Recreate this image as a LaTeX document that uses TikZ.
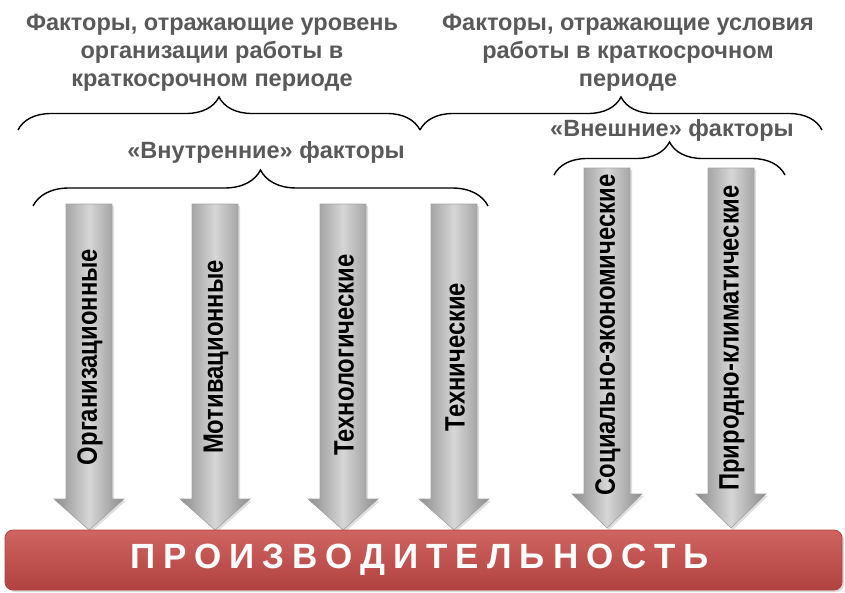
\documentclass[tikz,border=0pt]{standalone}
\usepackage{fontspec}
\setmainfont{Liberation Sans}
\newfontfamily\arrowfont[FakeStretch=0.85]{Liberation Sans}
\newfontfamily\barfont[LetterSpace=23]{Liberation Sans}
\usetikzlibrary{decorations.pathreplacing,shadows}
\definecolor{headgray}{HTML}{595959}
\definecolor{arrowdark}{HTML}{8C8C8C}
\definecolor{arrowlight}{HTML}{D6D6D6}
\definecolor{barlight}{HTML}{D06461}
\definecolor{bardark}{HTML}{B0423F}
\tikzset{header/.style={align=center, text=headgray, font=\bfseries\fontsize{23.5}{28}\selectfont},
  factor/.style={draw=arrowdark!80, line width=0.6pt, left color=arrowdark, right color=arrowdark,
    middle color=arrowlight, drop shadow={shadow xshift=2pt, shadow yshift=-2pt, opacity=0.25}},
  factor label/.style={rotate=90, font=\arrowfont\bfseries\fontsize{28}{30}\selectfont},
  group brace/.style={decorate, line width=1.4pt, decoration={brace, amplitude=#1}}}

\begin{document}
\begin{tikzpicture}[x=1pt,y=-1pt]
    \useasboundingbox (0,0) rectangle (845,592);
    % headings
    \node[header] (orgtitle) at (212,53) {Факторы, отражающие уровень\\организации работы в\\краткосрочном периоде};
    \node[header] (condtitle) at (628,53) {Факторы, отражающие условия\\работы в краткосрочном\\периоде};
    \node[header] (inner) at (266,152) {«Внутренние» факторы};
    \node[header] (outer) at (672,130) {«Внешние» факторы};
    % braces
    \draw[group brace=33pt] (18,130) -- (420,130);
    \draw[group brace=33pt] (420,130) -- (822,130);
    \draw[group brace=36pt] (33,206) -- (488,206);
    \draw[group brace=33pt] (554,175) -- (785,175);
    % factor arrows
    \draw[factor] (66,204) -- (112,204) -- (112,499) -- (124,499) -- (89,530) -- (54,499) -- (66,499) -- cycle;
    \draw[factor] (192,204) -- (238,204) -- (238,499) -- (250,499) -- (215,530) -- (180,499) -- (192,499) -- cycle;
    \draw[factor] (320,204) -- (366,204) -- (366,499) -- (378,499) -- (343,530) -- (308,499) -- (320,499) -- cycle;
    \draw[factor] (431,204) -- (477,204) -- (477,499) -- (489,499) -- (454,530) -- (419,499) -- (431,499) -- cycle;
    \draw[factor] (584,168) -- (630,168) -- (630,494) -- (642,494) -- (607,528) -- (572,494) -- (584,494) -- cycle;
    \draw[factor] (708,168) -- (754,168) -- (754,494) -- (766,494) -- (731,528) -- (696,494) -- (708,494) -- cycle;
    \node[factor label] (org) at (90,357) {Организационные};
    \node[factor label] (motiv) at (216,357) {Мотивационные};
    \node[factor label] (techno) at (344,355) {Технологические};
    \node[factor label] (techn) at (455,357) {Технические};
    \node[factor label] (socec) at (608,335) {Социально-экономические};
    \node[factor label] (natcl) at (732,338) {Природно-климатические};
    % result bar
    \node[draw=bardark, line width=0.8pt, rounded corners=8pt, top color=barlight, bottom color=bardark,
      minimum width=837pt, minimum height=60pt, inner sep=0pt, text=white,
      drop shadow={shadow xshift=2pt, shadow yshift=-2pt, opacity=0.3},
      font=\barfont\bfseries\fontsize{35}{40}\selectfont] (prod) at (423.5,560) {ПРОИЗВОДИТЕЛЬНОСТЬ\kern8pt};
\end{tikzpicture}
\end{document}
